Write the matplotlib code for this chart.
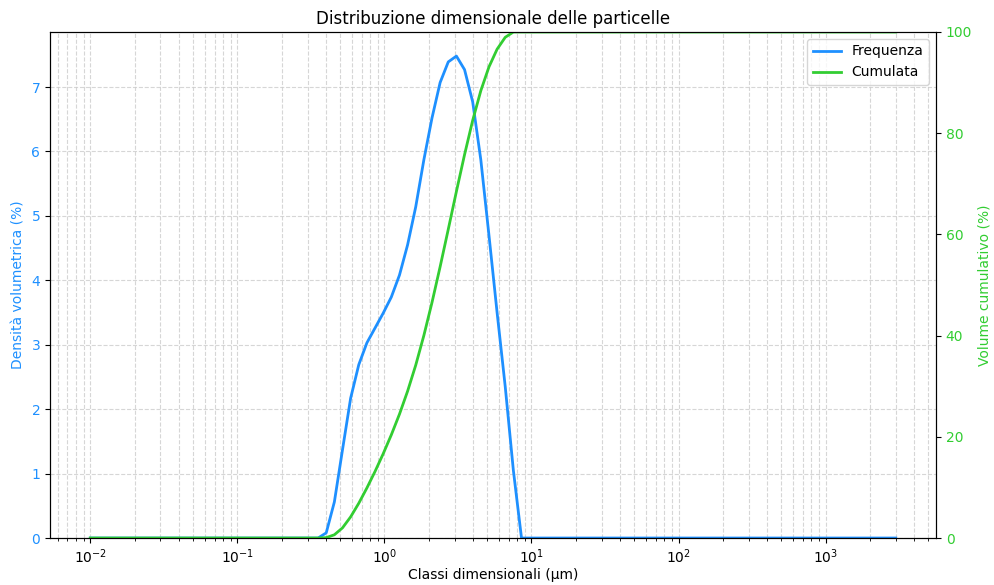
import numpy as np
import matplotlib
matplotlib.use("Agg")
import matplotlib.pyplot as plt

# Size classes (µm): 100 log-spaced classes from 0.01 to 3000 µm
size_classes = np.geomspace(0.01, 3000, 100)

# Volume density per class (%)
frequenza = [0.0] * 29 + [
    0.08, 0.56, 1.37, 2.17, 2.69, 3.03, 3.26, 3.49, 3.74, 4.08,
    4.55, 5.14, 5.87, 6.52, 7.07, 7.39, 7.48, 7.27, 6.77, 5.87,
    4.70, 3.50, 2.35, 1.05,
] + [0.0] * 47

# Cumulative volume undersize (%)
cumulata = [0.0] * 29 + [
    0.08, 0.64, 2.01, 4.18, 6.87, 9.90, 13.16, 16.65, 20.39, 24.47,
    29.02, 34.16, 40.03, 46.55, 53.62, 61.01, 68.49, 75.76, 82.53, 88.40,
    93.10, 96.60, 98.95, 100.0,
] + [100.0] * 47

blue = "#1E90FF"
green = "#32CD32"

fig, ax = plt.subplots(figsize=(9.94, 5.85), dpi=100)
fig.subplots_adjust(left=0.0503, right=0.9417, top=0.9453, bottom=0.0803)

l1, = ax.plot(size_classes, frequenza, color=blue, lw=2, label="Frequenza")
ax.set_xscale("log")
ax.set_ylim(0, max(frequenza) * 1.05)
ax.set_xlabel("Classi dimensionali (µm)", labelpad=1.5)
ax.set_ylabel("Densità volumetrica (%)", color=blue)
ax.tick_params(axis="y", labelcolor=blue)
ax.grid(True, which="both", linestyle="--", color="#cccccc", alpha=0.8, linewidth=0.8)

ax2 = ax.twinx()
l2, = ax2.plot(size_classes, cumulata, color=green, lw=2, label="Cumulata")
ax2.set_ylim(0, 100)
ax2.set_ylabel("Volume cumulativo (%)", color=green)
ax2.tick_params(axis="y", labelcolor=green)

ax.set_title("Distribuzione dimensionale delle particelle")
ax2.legend([l1, l2], [l1.get_label(), l2.get_label()], loc="upper right")

fig.savefig("out.png", dpi=100)
